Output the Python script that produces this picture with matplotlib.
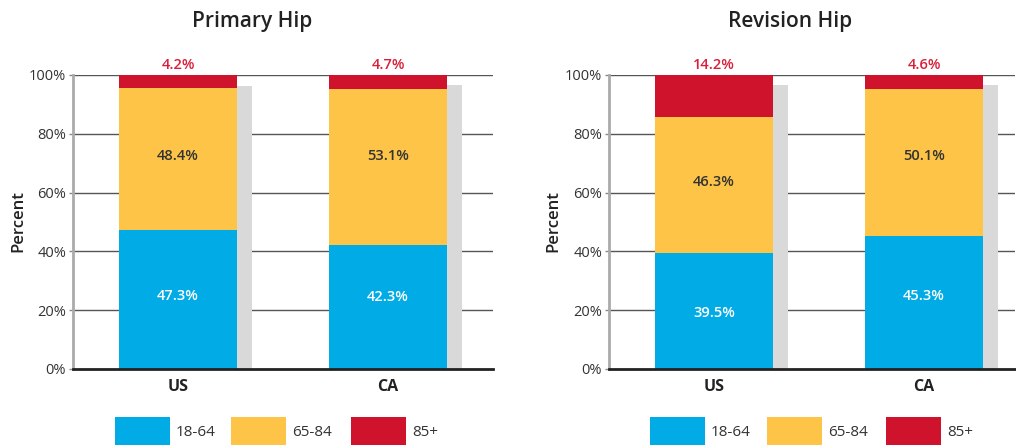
import matplotlib
matplotlib.use("Agg")
import matplotlib.pyplot as plt
from matplotlib.patches import Rectangle
import numpy as np

plt.rcParams['font.family'] = ['Open Sans', 'DejaVu Sans']

categories = ["US", "CA"]
series_names = ["18-64", "65-84", "85+"]
primary_vals = {"18-64": [47.3, 42.3], "65-84": [48.4, 53.1], "85+": [4.2, 4.7]}
revision_vals = {"18-64": [39.5, 45.3], "65-84": [46.3, 50.1], "85+": [14.2, 4.6]}
panel_titles = ["Primary Hip", "Revision Hip"]
yticks = [0, 20, 40, 60, 80, 100]
ytick_labels = ["0%", "20%", "40%", "60%", "80%", "100%"]

colors = {"18-64": "#00abe6", "65-84": "#fec447", "85+": "#d0132d"}
label_colors = {"18-64": "white", "65-84": "#333333", "85+": "#d8203a"}
shadow_color = "#d9d9d9"

# layout: in-bar label heights (axis units) as placed in the original
label_pos = [
    {"18-64": [24.8, 24.6], "65-84": [72.4, 72.4]},
    {"18-64": [19.0, 24.8], "65-84": [63.6, 72.4]},
]

W, H = 1016, 445
fig = plt.figure(figsize=(W / 100, H / 100), dpi=100)

def px_axes(l, r, t, b):
    return fig.add_axes([l / W, 1 - b / H, (r - l) / W, (b - t) / H])

axes_px = [(73, 493, 75, 369), (609, 1015, 75, 369)]
title_x = [252, 790]
ylabel_x = [26, 561]
legend_x = [(115, 231, 351), (650, 767, 886)]

bar_w = 118 / 210
shadow_w = 15 / 210

for i, vals in enumerate([primary_vals, revision_vals]):
    l, r, t, b = axes_px[i]
    ax = px_axes(l, r, t, b)
    x = np.arange(len(categories))
    ax.set_xlim(-0.5, (r - l) / 210 - 0.5)
    ax.set_ylim(0, 100)
    totals = np.sum([vals[s] for s in series_names], axis=0)
    # shadow
    ax.bar(x + bar_w / 2 + shadow_w / 2, totals - 3.5, width=shadow_w,
           color=shadow_color, zorder=1, linewidth=0)
    bottom = np.zeros(len(categories))
    for s in series_names:
        v = np.array(vals[s])
        ax.bar(x, v, width=bar_w, bottom=bottom, color=colors[s], zorder=2, linewidth=0)
        for xi, (bi, vi) in enumerate(zip(bottom, v)):
            if s == "85+":
                ax.text(xi, bi + vi + 1, f"{vi:.1f}%", ha="center", va="bottom",
                        color=label_colors[s], fontsize=10.5, fontweight="semibold", clip_on=False)
            else:
                ax.text(xi, label_pos[i][s][xi], f"{vi:.1f}%", ha="center", va="center",
                        color=label_colors[s], fontsize=10.5, fontweight="semibold")
        bottom += v
    ax.set_yticks(yticks)
    ax.set_yticklabels(ytick_labels)
    ax.set_xticks(x)
    ax.set_xticklabels(categories, fontweight="bold", fontsize=11.5, color="#222222")
    ax.tick_params(axis="x", length=0, pad=7)
    ax.tick_params(axis="y", length=3, width=1, color="#888888", pad=2, labelsize=10.5, labelcolor="#333333")
    for yv in yticks[1:]:
        ax.axhline(yv, color="#555555", lw=1, zorder=0.5)
    for sp in ["top", "right"]:
        ax.spines[sp].set_visible(False)
    ax.spines["left"].set_color("#aaaaaa")
    ax.spines["left"].set_linewidth(2)
    ax.spines["bottom"].set_color("#222222")
    ax.spines["bottom"].set_linewidth(2)
    ax.spines["bottom"].set_zorder(3)
    ax.set_ylabel("Percent", fontweight="semibold", fontsize=12, color="#222222")
    ax.yaxis.set_label_coords((ylabel_x[i] - l) / (r - l), (b - 221) / (b - t))
    fig.text(title_x[i] / W, 1 - 22 / H, panel_titles[i], ha="center", va="center",
             fontsize=15, fontweight="semibold", color="#222222")
    # legend
    for s, lx in zip(series_names, legend_x[i]):
        fig.patches.append(Rectangle((lx / W, 0), 55 / W, 28 / H, transform=fig.transFigure,
                                     facecolor=colors[s], edgecolor="none"))
        fig.text((lx + 61) / W, 1 - 433 / H, s, ha="left", va="center",
                 fontsize=11, color="#333333")

fig.savefig("out.png", dpi=100)
